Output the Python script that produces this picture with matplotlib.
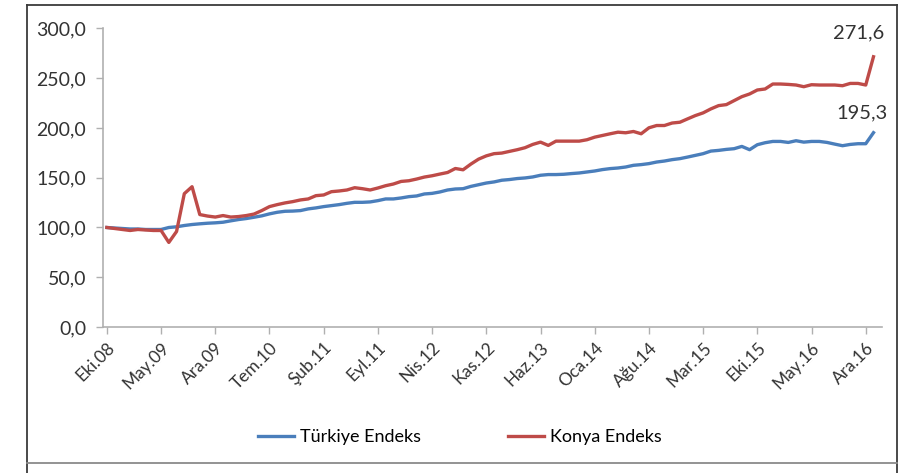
import matplotlib.pyplot as plt
from matplotlib.lines import Line2D
from matplotlib.ticker import FuncFormatter

# monthly index, Eki.08 .. Oca.17
turkiye = [100, 99.5, 99, 98.5, 98.5, 98, 98, 98, 100, 100.7, 102, 103, 103.7, 104.3, 104.7,
           105.3, 106.7, 108, 109, 110.3, 111.7, 113.7, 115.3, 116.3, 116.5,
           117, 118.7, 119.7, 121, 122, 123, 124.3, 125.3, 125.3, 125.7, 127, 128.7, 128.7,
           129.7, 131, 131.7, 133.7, 134.3, 135.7, 137.7, 138.7, 139, 141.3, 143, 144.7,
           145.8, 147.5, 148.2, 149.2, 149.8, 150.8, 152.5, 153.2, 153.2, 153.5, 154.2, 154.8,
           155.8, 156.8, 158.2, 159.2, 159.8, 160.8, 162.5, 163.2, 164.2, 165.8, 166.8, 168.2,
           169.2, 170.8, 172.5, 174.2, 176.8, 177.5, 178.5, 179.2, 181.5, 178.2, 183.2, 185.2,
           186.5, 186.5, 185.5, 187.2, 185.8, 186.5, 186.5, 185.5, 183.8, 182.2, 183.5, 184.2,
           184.2, 195.3]
konya = [100, 99, 98, 97, 98, 97.5, 97, 97, 85, 96, 134, 141, 113, 111.5, 110.5, 112, 110.5,
         111, 112, 113.5, 117, 121, 123, 124.7, 126,
         127.7, 128.7, 132, 132.7, 136, 136.7, 137.7, 140, 139, 137.7, 139.7, 142, 143.7, 146.3,
         147, 148.7, 150.7, 152, 153.7, 155.3, 159.3, 158, 163.7, 168.7, 172,
         174.2, 174.8, 176.5, 178.2, 180.2, 183.5, 185.8, 182.5, 186.8, 186.8, 186.8, 186.8,
         188.2, 190.8, 192.5, 194.2, 195.8, 195.2, 196.5, 194.2, 200.2, 202.5, 202.5, 205,
         205.8, 209.2, 212.5, 215.2, 219.2, 222.5, 223.5, 227.5, 231.5, 234.2, 238.2, 239.2,
         244.2, 244.2, 243.8, 243.2, 241.5, 243.5, 243.2, 243.2, 243.2, 242.5, 244.8, 244.8,
         243.2, 271.6]
tick_labels = ['Eki.08', 'May.09', 'Ara.09', 'Tem.10', 'Şub.11', 'Eyl.11', 'Nis.12', 'Kas.12',
               'Haz.13', 'Oca.14', 'Ağu.14', 'Mar.15', 'Eki.15', 'May.16', 'Ara.16']
yticks = [0, 50, 100, 150, 200, 250, 300]

plt.rcParams['font.family'] = ['Lato', 'DejaVu Sans']
W, H = 918, 473
fig = plt.figure(figsize=(W / 100, H / 100), dpi=100)
ax = fig.add_axes([103 / W, 1 - 327 / H, (882 - 103) / W, (327 - 28.5) / H])

x = list(range(len(turkiye)))
blue, red = '#4a7ebb', '#be4b48'
txt = '#333333'
ax.plot(x, turkiye, color=blue, lw=2.4, solid_joinstyle='round', label='Türkiye Endeks')
ax.plot(x, konya, color=red, lw=2.4, solid_joinstyle='round', label='Konya Endeks')

ax.annotate('271,6', (x[-1], konya[-1]), xytext=(-11, 11), textcoords='offset points',
            ha='center', va='bottom', fontsize=14.5, color=txt)
ax.annotate('195,3', (x[-1], turkiye[-1]), xytext=(-8, 8), textcoords='offset points',
            ha='center', va='bottom', fontsize=14.5, color=txt)

ax.set_xlim(-0.5, 100.1)
ax.set_ylim(0, 300)
ax.set_yticks(yticks)
ax.yaxis.set_major_formatter(FuncFormatter(lambda v, p: f'{v:.1f}'.replace('.', ',')))
ax.set_xticks(range(0, 7 * len(tick_labels), 7))
ax.set_xticklabels(tick_labels, rotation=45, ha='right', va='top', rotation_mode='anchor')
for s in ['top', 'right']:
    ax.spines[s].set_visible(False)
for s in ['left', 'bottom']:
    ax.spines[s].set_color('#b0b0b0')
    ax.spines[s].set_linewidth(1.2)
ax.tick_params(axis='both', colors='#b0b0b0', labelcolor=txt, length=5, width=1)
ax.tick_params(axis='y', pad=7, labelsize=14)
ax.tick_params(axis='x', pad=4, labelsize=12.5)

fig.legend(loc='center', bbox_to_anchor=(460 / W, 1 - 437 / H), ncol=2, frameon=False,
           fontsize=13, handlelength=2.0, columnspacing=4.8, handletextpad=0.35)

# outer frame
fx = lambda p: p / W
fy = lambda p: 1 - p / H
frame = dict(color='#3a3a3a', lw=1.3, transform=fig.transFigure)
fig.add_artist(Line2D([fx(27), fx(897)], [fy(5), fy(5)], **frame))
fig.add_artist(Line2D([fx(27), fx(27)], [fy(5), fy(473)], **frame))
fig.add_artist(Line2D([fx(897), fx(897)], [fy(5), fy(473)], **frame))
fig.add_artist(Line2D([fx(27), fx(897)], [fy(463), fy(463)], color='#8a8a8a', lw=1.3,
                      transform=fig.transFigure))

fig.savefig('out.png', dpi=100)
